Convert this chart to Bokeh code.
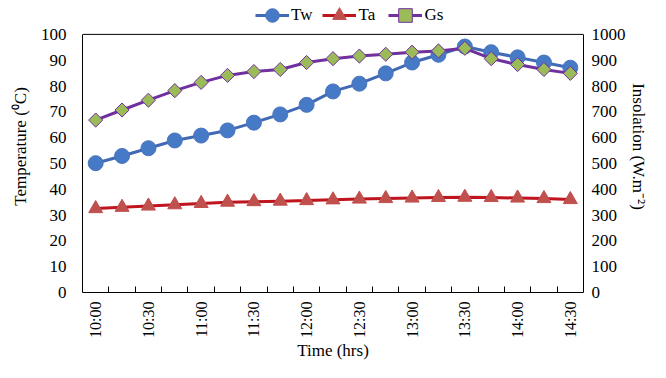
import math
from bokeh.plotting import figure
from bokeh.models import (Range1d, LinearAxis, FixedTicker, Legend, LegendItem,
                          ColumnDataSource, Span)
from bokeh.embed import file_html
from bokeh.resources import INLINE

times = ["10:00", "10:15", "10:30", "10:45", "11:00", "11:15", "11:30", "11:45",
         "12:00", "12:15", "12:30", "12:45", "13:00", "13:15", "13:30", "13:45",
         "14:00", "14:15", "14:30"]
tw = [50.1, 52.9, 55.9, 58.9, 60.8, 62.8, 65.8, 69.0, 72.7, 77.9, 80.9, 84.9,
      89.1, 92.1, 95.3, 93.1, 91.1, 89.1, 87.1]
ta = [32.5, 33.0, 33.5, 34.0, 34.5, 35.0, 35.2, 35.4, 35.6, 35.9, 36.2, 36.4,
      36.6, 36.8, 36.9, 36.8, 36.6, 36.4, 36.0]
gs = [668, 707, 745, 782, 814, 841, 856, 864, 891, 906, 916, 923, 931, 936,
      946, 906, 883, 864, 849]
temp_ticks = [0, 10, 20, 30, 40, 50, 60, 70, 80, 90, 100]
ins_ticks = [0, 100, 200, 300, 400, 500, 600, 700, 800, 900, 1000]

FONT = "Liberation Serif"
FS = "17px"

W, H = 650, 362
TOP, BOTTOM = 0, 69
# frame extends above the plot box so the legend can sit over it
frame_h = H - TOP - BOTTOM
box_top_px = 34 - TOP
headroom = frame_h / (frame_h - box_top_px)
t_max = temp_ticks[-1]
i_max = ins_ticks[-1]

x = list(range(len(times)))
src = ColumnDataSource(dict(x=x, tw=tw, ta=ta, gs=gs))

p = figure(width=W, height=H, output_backend="svg", toolbar_location=None,
           x_range=Range1d(-0.5, len(times) - 0.5),
           y_range=Range1d(0, t_max * headroom),
           min_border_left=82, min_border_right=66, min_border_top=TOP,
           min_border_bottom=BOTTOM, x_axis_location=None, y_axis_location=None)
p.extra_y_ranges = {"gs": Range1d(0, i_max * headroom)}
p.xgrid.visible = False
p.ygrid.visible = False
p.outline_line_color = None
p.add_layout(Span(location=t_max, dimension="width", line_color="black",
                  line_width=1))

# x axis
label_idx = x[::2]
xaxis = LinearAxis(ticker=FixedTicker(ticks=label_idx,
                                      minor_ticks=[i + 0.5 for i in x[:-1]]),
                   major_label_overrides={i: times[i] for i in label_idx},
                   axis_label="Time (hrs)")
xaxis.major_label_orientation = math.pi / 2
xaxis.major_tick_line_color = None
xaxis.major_tick_in = 0
xaxis.major_tick_out = 0
xaxis.minor_tick_in = 6
xaxis.minor_tick_out = 0
xaxis.minor_tick_line_color = "black"
xaxis.axis_line_color = "black"
xaxis.major_label_standoff = 9
xaxis.axis_label_standoff = 0
p.add_layout(xaxis, "below")

# left axis
yaxis = LinearAxis(ticker=FixedTicker(ticks=temp_ticks), axis_label="Temperature (⁰C)",
                   bounds=(0, t_max))
yaxis.major_tick_line_color = None
yaxis.minor_tick_line_color = None
yaxis.major_tick_out = 0
yaxis.major_tick_in = 0
yaxis.axis_line_color = "black"
yaxis.major_label_standoff = 16
yaxis.axis_label_standoff = 8
p.add_layout(yaxis, "left")

# right axis
raxis = LinearAxis(y_range_name="gs", ticker=FixedTicker(ticks=ins_ticks),
                   axis_label="Insolation (W.m⁻²)", bounds=(0, i_max))
raxis.major_tick_line_color = None
raxis.minor_tick_line_color = None
raxis.major_tick_out = 0
raxis.major_tick_in = 0
raxis.axis_line_color = "black"
raxis.major_label_standoff = 8
raxis.axis_label_standoff = 0
p.add_layout(raxis, "right")

for ax in (xaxis, yaxis, raxis):
    ax.major_label_text_font = FONT
    ax.major_label_text_font_size = FS
    ax.major_label_text_color = "black"
    ax.axis_label_text_font = FONT
    ax.axis_label_text_font_size = FS
    ax.axis_label_text_font_style = "normal"
    ax.axis_label_text_color = "black"
xaxis.major_label_text_font_size = "16px"

tw_line = p.line("x", "tw", source=src, line_color="#4169B4", line_width=3)
tw_pt = p.scatter("x", "tw", source=src, marker="circle", size=15,
                  fill_color="#4679C6", line_color="#4A74BE", line_width=1)
ta_line = p.line("x", "ta", source=src, line_color="#C0141E", line_width=3)
ta_pt = p.scatter("x", "ta", source=src, marker="triangle", size=14,
                  fill_color="#C0504D", line_color="#C0504D", line_width=1)
gs_line = p.line("x", "gs", source=src, y_range_name="gs", line_color="#7030A0",
                 line_width=3)
gs_pt = p.scatter("x", "gs", source=src, y_range_name="gs", marker="square",
                  angle=math.pi / 4, size=10, fill_color="#9BBB59",
                  line_color="#7030A0", line_width=1)

legend = Legend(items=[LegendItem(label="Tw", renderers=[tw_line, tw_pt]),
                       LegendItem(label="Ta", renderers=[ta_line, ta_pt]),
                       LegendItem(label="Gs", renderers=[gs_line, gs_pt])],
                orientation="horizontal", location=(173, frame_h - 33))
legend.padding = 0
legend.margin = 0
legend.spacing = 10
legend.label_standoff = 2
legend.glyph_width = 34
legend.glyph_height = 34
legend.label_height = 20
legend.border_line_color = None
legend.background_fill_alpha = 0
legend.label_text_font = FONT
legend.label_text_font_size = FS
legend.label_text_color = "black"
p.add_layout(legend, "center")

open("out.html", "w").write(file_html(p, INLINE))
